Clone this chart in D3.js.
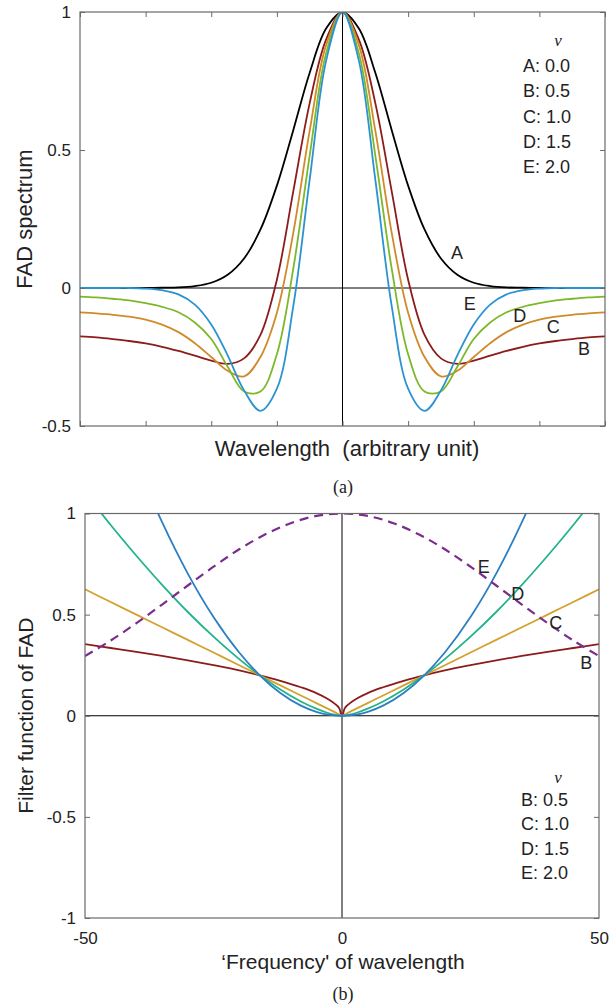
<!DOCTYPE html>
<html><head><meta charset="utf-8">
<script src="https://cdn.jsdelivr.net/npm/d3@7"></script>
<style>
body{margin:0;background:#fff}
text{font-family:"Liberation Sans",Arial,Helvetica,sans-serif;fill:#222}
</style></head>
<body><svg id="c" width="610" height="1007"></svg>
<script>
// ---------- Panel (a) data ----------
const wavelength = [-4,-3.75,-3.5,-3.25,-3,-2.75,-2.5,-2.25,-2,-1.75,-1.5,-1.25,-1,-0.75,-0.5,-0.25,0,0.25,0.5,0.75,1,1.25,1.5,1.75,2,2.25,2.5,2.75,3,3.25,3.5,3.75,4];
const specA = [0,0,0,0,0,0.001,0.002,0.007,0.019,0.048,0.107,0.212,0.371,0.572,0.780,0.940,1,0.940,0.780,0.572,0.371,0.212,0.107,0.048,0.019,0.007,0.002,0.001,0,0,0,0,0];
const specB = [-0.175,-0.179,-0.185,-0.192,-0.201,-0.213,-0.228,-0.245,-0.263,-0.275,-0.255,-0.17,0.03,0.35,0.67,0.90,1,0.90,0.67,0.35,0.03,-0.17,-0.255,-0.275,-0.263,-0.245,-0.228,-0.213,-0.201,-0.192,-0.185,-0.179,-0.175];
const specC = [-0.088,-0.092,-0.097,-0.104,-0.115,-0.133,-0.16,-0.20,-0.25,-0.30,-0.32,-0.25,-0.09,0.20,0.57,0.88,1,0.88,0.57,0.20,-0.09,-0.25,-0.32,-0.30,-0.25,-0.20,-0.16,-0.133,-0.115,-0.104,-0.097,-0.092,-0.088];
const specD = [-0.031,-0.034,-0.039,-0.045,-0.055,-0.068,-0.088,-0.125,-0.185,-0.285,-0.375,-0.375,-0.24,0.07,0.48,0.85,1,0.85,0.48,0.07,-0.24,-0.375,-0.375,-0.285,-0.185,-0.125,-0.088,-0.068,-0.055,-0.045,-0.039,-0.034,-0.031];
const specE = [0,0,0,0,-0.002,-0.008,-0.023,-0.060,-0.132,-0.244,-0.371,-0.445,-0.365,-0.066,0.393,0.823,1,0.823,0.393,-0.066,-0.365,-0.445,-0.371,-0.244,-0.132,-0.060,-0.023,-0.008,-0.002,0,0,0,0];
const seriesNamesA = ["A","B","C","D","E"];
const nuValuesA = ["0.0","0.5","1.0","1.5","2.0"];
const topYTicks = [1,0.5,0,-0.5];
const topYTickLabels = ["1","0.5","0","-0.5"];
const topXTicks = [-4,-3,-2,-1,0,1,2,3,4];

// ---------- Panel (b) data ----------
const freq = [-50,-45,-40,-35,-30,-25,-20,-16,-12,-8,-5,-3,-1.5,-0.5,0,0.5,1.5,3,5,8,12,16,20,25,30,35,40,45,50];
const filtB = [0.354,0.335,0.316,0.296,0.274,0.25,0.224,0.2,0.173,0.141,0.112,0.087,0.061,0.035,0,0.035,0.061,0.087,0.112,0.141,0.173,0.2,0.224,0.25,0.274,0.296,0.316,0.335,0.354];
const filtC = [0.625,0.5625,0.5,0.4375,0.375,0.3125,0.25,0.2,0.15,0.1,0.0625,0.0375,0.019,0.006,0,0.006,0.019,0.0375,0.0625,0.1,0.15,0.2,0.25,0.3125,0.375,0.4375,0.5,0.5625,0.625];
const filtD = [1.105,0.943,0.791,0.647,0.513,0.391,0.280,0.2,0.130,0.0707,0.035,0.016,0.0057,0.001,0,0.001,0.0057,0.016,0.035,0.0707,0.130,0.2,0.280,0.391,0.513,0.647,0.791,0.943,1.105];
const filtE = [1.953,1.582,1.25,0.957,0.703,0.488,0.3125,0.2,0.1125,0.05,0.0195,0.007,0.0018,0.0002,0,0.0002,0.0018,0.007,0.0195,0.05,0.1125,0.2,0.3125,0.488,0.703,0.957,1.25,1.582,1.953];
const freqDash = [-50,-45,-40,-35,-30,-25,-20,-15,-10,-5,0,5,10,15,20,25,30,35,40,45,50];
const gaussDash = [0.295,0.372,0.458,0.550,0.644,0.737,0.823,0.896,0.952,0.988,1,0.988,0.952,0.896,0.823,0.737,0.644,0.550,0.458,0.372,0.295];
const seriesNamesB = ["B","C","D","E"];
const nuValuesB = ["0.5","1.0","1.5","2.0"];
const botYTicks = [1,0.5,0,-0.5,-1];
const botYTickLabels = ["1","0.5","0","-0.5","-1"];
const botXTicks = [-50,0,50];
const botXTickLabels = ["-50","0","50"];

// ---------- styles / layout ----------
const colA = {A:"#000000",B:"#8c1c1c",C:"#d08a2a",D:"#7cb82a",E:"#2b93d0"};
const colB = {B:"#8c1c1c",C:"#d4a02e",D:"#22b38c",E:"#2c7fc2",dash:"#7b2d8e"};

const svg = d3.select("#c");
const boxColor = "#6a6a6a";

// ---------------- Panel (a) ----------------
const xa = d3.scaleLinear().domain([-4,4]).range([80,605]);
const ya = d3.scaleLinear().domain([-0.5,1]).range([426,12]);
const ga = svg.append("g");

ga.append("defs").append("clipPath").attr("id","clipA").append("rect")
  .attr("x",80).attr("y",12).attr("width",525).attr("height",414);

ga.append("line").attr("x1",xa(-4)).attr("x2",xa(4)).attr("y1",ya(0)).attr("y2",ya(0)).attr("stroke","#000").attr("stroke-width",1);
ga.append("line").attr("x1",xa(0)).attr("x2",xa(0)).attr("y1",ya(-0.5)).attr("y2",ya(1)).attr("stroke","#000").attr("stroke-width",1);

const seriesA = {A:specA,B:specB,C:specC,D:specD,E:specE};
const lineA = d3.line().x((d,i)=>xa(wavelength[i])).y(d=>ya(d)).curve(d3.curveCatmullRom.alpha(0.5));
const gl = ga.append("g").attr("clip-path","url(#clipA)");
["A","B","C","D","E"].forEach(k=>{
  gl.append("path").datum(seriesA[k]).attr("d",lineA).attr("fill","none")
    .attr("stroke",colA[k]).attr("stroke-width",1.8);
});

const axLa = ga.append("g").attr("transform",`translate(${xa(-4)},0)`)
  .call(d3.axisLeft(ya).tickValues(topYTicks).tickSize(-5).tickPadding(9).tickFormat((d,i)=>topYTickLabels[i]));
const axRa = ga.append("g").attr("transform",`translate(${xa(4)},0)`)
  .call(d3.axisRight(ya).tickValues(topYTicks).tickSize(-5).tickFormat(""));
const axBa = ga.append("g").attr("transform",`translate(0,${ya(-0.5)})`)
  .call(d3.axisBottom(xa).tickValues(topXTicks).tickSize(-5).tickFormat(""));
const axTa = ga.append("g").attr("transform",`translate(0,${ya(1)})`)
  .call(d3.axisTop(xa).tickValues(topXTicks).tickSize(-5).tickFormat(""));
[axLa,axRa,axBa,axTa].forEach(a=>{a.select(".domain").remove();a.selectAll("line").attr("stroke",boxColor);});
axLa.selectAll("text").attr("font-size",17).attr("fill","#222").style("font-family","Liberation Sans, Arial, sans-serif");
ga.append("rect").attr("x",xa(-4)).attr("y",ya(1)).attr("width",xa(4)-xa(-4)).attr("height",ya(-0.5)-ya(1))
  .attr("fill","none").attr("stroke",boxColor).attr("stroke-width",1.2);

ga.append("text").attr("x",347).attr("y",456).attr("text-anchor","middle").attr("font-size",22)
  .text("Wavelength\u00a0\u00a0(arbitrary unit)");
ga.append("text").attr("transform",`translate(32,${(ya(1)+ya(-0.5))/2}) rotate(-90)`).attr("text-anchor","middle").attr("font-size",22)
  .text("FAD spectrum");
ga.append("text").attr("x",343).attr("y",493).attr("text-anchor","middle").attr("font-size",18)
  .style("font-family","Liberation Serif, Times New Roman, serif").text("(a)");

ga.append("text").attr("x",558).attr("y",46).attr("text-anchor","middle").attr("font-size",17)
  .style("font-family","Liberation Serif, Times New Roman, serif").style("font-style","italic").text("\u03bd");
seriesNamesA.forEach((n,i)=>{
  ga.append("text").attr("x",523).attr("y",72+i*25.3).attr("font-size",18).text(`${n}: ${nuValuesA[i]}`);
});

const labelPosA = [["A",1.745,0.127],["E",1.94,-0.058],["D",2.70,-0.098],["C",3.21,-0.141],["B",3.68,-0.221]];
labelPosA.forEach(([n,u,v])=>{
  ga.append("text").attr("x",xa(u)).attr("y",ya(v)).attr("dy","0.36em").attr("text-anchor","middle").attr("font-size",18).text(n);
});

// ---------------- Panel (b) ----------------
const xb = d3.scaleLinear().domain([-50,50]).range([85,599]);
const yb = d3.scaleLinear().domain([-1,1]).range([918,513.5]);
const gb = svg.append("g");
gb.append("defs").append("clipPath").attr("id","clipB").append("rect")
  .attr("x",85).attr("y",513.5).attr("width",514).attr("height",404.5);

gb.append("line").attr("x1",xb(-50)).attr("x2",xb(50)).attr("y1",yb(0)).attr("y2",yb(0)).attr("stroke","#000").attr("stroke-width",1);
gb.append("line").attr("x1",xb(0)).attr("x2",xb(0)).attr("y1",yb(-1)).attr("y2",yb(1)).attr("stroke","#000").attr("stroke-width",1);

const seriesB = {B:filtB,C:filtC,D:filtD,E:filtE};
const lineB = d3.line().x((d,i)=>xb(freq[i])).y(d=>yb(d)).curve(d3.curveMonotoneX);
const gl2 = gb.append("g").attr("clip-path","url(#clipB)");
["B","C","D","E"].forEach(k=>{
  gl2.append("path").datum(seriesB[k]).attr("d",lineB).attr("fill","none")
    .attr("stroke",colB[k]).attr("stroke-width",1.8);
});
const lineDash = d3.line().x((d,i)=>xb(freqDash[i])).y(d=>yb(d)).curve(d3.curveCatmullRom.alpha(0.5));
gl2.append("path").datum(gaussDash).attr("d",lineDash).attr("fill","none")
  .attr("stroke",colB.dash).attr("stroke-width",2.2).attr("stroke-dasharray","9,6");

const axLb = gb.append("g").attr("transform",`translate(${xb(-50)},0)`)
  .call(d3.axisLeft(yb).tickValues(botYTicks).tickSize(-5).tickPadding(9).tickFormat((d,i)=>botYTickLabels[i]));
const axRb = gb.append("g").attr("transform",`translate(${xb(50)},0)`)
  .call(d3.axisRight(yb).tickValues(botYTicks).tickSize(-5).tickFormat(""));
const axBb = gb.append("g").attr("transform",`translate(0,${yb(-1)})`)
  .call(d3.axisBottom(xb).tickValues(botXTicks).tickSize(0).tickPadding(14).tickFormat((d,i)=>botXTickLabels[i]));
[axLb,axRb,axBb].forEach(a=>{a.select(".domain").remove();a.selectAll("line").attr("stroke",boxColor);});
[axLb,axBb].forEach(a=>a.selectAll("text").attr("font-size",17).attr("fill","#222").style("font-family","Liberation Sans, Arial, sans-serif"));
gb.append("rect").attr("x",xb(-50)).attr("y",yb(1)).attr("width",xb(50)-xb(-50)).attr("height",yb(-1)-yb(1))
  .attr("fill","none").attr("stroke",boxColor).attr("stroke-width",1.2);

gb.append("text").attr("x",343).attr("y",969).attr("text-anchor","middle").attr("font-size",21)
  .text("\u2018Frequency' of wavelength");
gb.append("text").attr("transform",`translate(33,${(yb(1)+yb(-1))/2}) rotate(-90)`).attr("text-anchor","middle").attr("font-size",21)
  .text("Filter function of FAD");
gb.append("text").attr("x",343).attr("y",1000).attr("text-anchor","middle").attr("font-size",18)
  .style("font-family","Liberation Serif, Times New Roman, serif").text("(b)");

gb.append("text").attr("x",558).attr("y",783).attr("text-anchor","middle").attr("font-size",17)
  .style("font-family","Liberation Serif, Times New Roman, serif").style("font-style","italic").text("\u03bd");
seriesNamesB.forEach((n,i)=>{
  gb.append("text").attr("x",521).attr("y",806+i*24.3).attr("font-size",18).text(`${n}: ${nuValuesB[i]}`);
});
const labelPosB = [["E",27.6,0.74],["D",34.2,0.602],["C",41.6,0.463],["B",47.5,0.261]];
labelPosB.forEach(([n,u,v])=>{
  gb.append("text").attr("x",xb(u)).attr("y",yb(v)).attr("dy","0.36em").attr("text-anchor","middle").attr("font-size",18).text(n);
});
</script></body></html>
